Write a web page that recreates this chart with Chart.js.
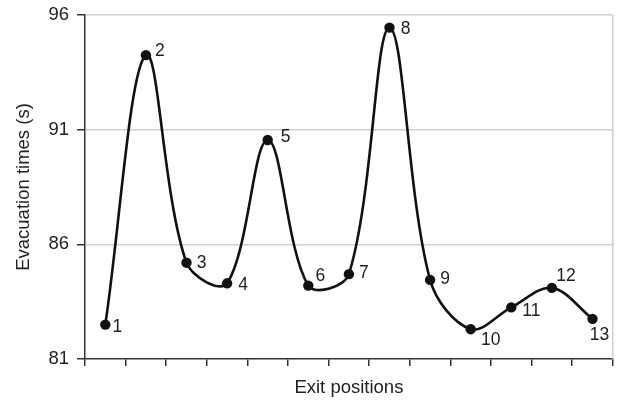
<!DOCTYPE html>
<html>
<head>
<meta charset="utf-8">
<script src="https://cdn.jsdelivr.net/npm/chart.js@4/dist/chart.umd.min.js"></script>
<style>
  html, body { margin: 0; padding: 0; background: #fff; }
  #wrap { width: 618px; height: 402px; }
</style>
</head>
<body>
<div id="wrap"><canvas id="chart" width="618" height="402"></canvas></div>
<script>
// Exit positions along the wall and the evacuation time measured for each one
const exitPositions = ['1', '2', '3', '4', '5', '6', '7', '8', '9', '10', '11', '12', '13'];
const evacuationTimes = [82.5, 94.25, 85.2, 84.3, 90.55, 84.2, 84.7, 95.45, 84.45, 82.3, 83.25, 84.1, 82.75];
const yTickValues = [81, 86, 91, 96];

// Where each number sits relative to its marker (dx, dy in px)
const labelNudge = [
  [12, 3], [14, -4], [15, 0], [16, 2], [18, -3], [12, -9], [15, -1],
  [16, 2], [15, -1], [20, 11], [20, 4], [14, -12], [7, 16]
];

const FONT = '"Liberation Sans", Arial, Helvetica, sans-serif';
const INK = '#222';

const pointNumbers = {
  id: 'pointNumbers',
  afterDatasetsDraw(chart) {
    const ctx = chart.ctx;
    const meta = chart.getDatasetMeta(0);
    ctx.save();
    ctx.font = '17.5px ' + FONT;
    ctx.fillStyle = INK;
    ctx.textAlign = 'center';
    ctx.textBaseline = 'middle';
    meta.data.forEach((pt, i) => {
      const [dx, dy] = labelNudge[i];
      ctx.fillText(exitPositions[i], pt.x + dx, pt.y + dy);
    });
    ctx.restore();
  }
};

const plotFrame = {
  id: 'plotFrame',
  beforeDatasetsDraw(chart) {
    const { ctx, chartArea } = chart;
    ctx.save();
    ctx.strokeStyle = '#cfcfcf';
    ctx.lineWidth = 1.5;
    ctx.beginPath();
    ctx.moveTo(chartArea.right, chartArea.top);
    ctx.lineTo(chartArea.right, chartArea.bottom);
    ctx.stroke();
    ctx.restore();
  }
};

new Chart(document.getElementById('chart'), {
  type: 'line',
  data: {
    labels: exitPositions,
    datasets: [{
      data: evacuationTimes,
      borderColor: '#111',
      borderWidth: 2.6,
      tension: 0.35,
      pointRadius: 5.2,
      pointBackgroundColor: '#111',
      pointBorderColor: '#111',
      pointBorderWidth: 0,
      clip: false
    }]
  },
  options: {
    responsive: false,
    animation: false,
    devicePixelRatio: 1,
    layout: { padding: { top: 15, right: 2, left: 0, bottom: 0 } },
    plugins: {
      legend: { display: false },
      tooltip: { enabled: false }
    },
    scales: {
      x: {
        type: 'category',
        offset: true,
        grid: {
          offset: true,
          drawOnChartArea: false,
          drawTicks: true,
          tickLength: 7,
          tickColor: '#333',
          lineWidth: 1.5
        },
        border: { color: '#333', width: 1.5 },
        ticks: { display: false },
        title: {
          display: true,
          text: 'Exit positions',
          color: INK,
          font: { family: FONT, size: 18.5 },
          padding: { top: 0, bottom: 3 }
        },
        afterFit(scale) {
          scale.height = 43;
          scale.paddingLeft = 0;
          scale.paddingRight = 0;
        }
      },
      y: {
        min: 81,
        max: 96,
        afterBuildTicks(scale) {
          scale.ticks = yTickValues.map(v => ({ value: v }));
        },
        grid: {
          color: ctx => (ctx.tick && ctx.tick.value === 81 ? 'rgba(0,0,0,0)' : '#cfcfcf'),
          lineWidth: 1.5,
          drawTicks: true,
          tickLength: 8,
          tickColor: '#333'
        },
        border: { color: '#333', width: 1.5 },
        ticks: {
          color: INK,
          padding: 8,
          font: { family: FONT, size: 18.5 }
        },
        title: {
          display: true,
          text: 'Evacuation times (s)',
          color: INK,
          font: { family: FONT, size: 18.5 },
          padding: { top: 13, bottom: 0 }
        },
        afterFit(scale) {
          scale.width = 85;
          scale.paddingTop = 0;
          scale.paddingBottom = 0;
        }
      }
    }
  },
  plugins: [plotFrame, pointNumbers]
});
</script>
</body>
</html>
